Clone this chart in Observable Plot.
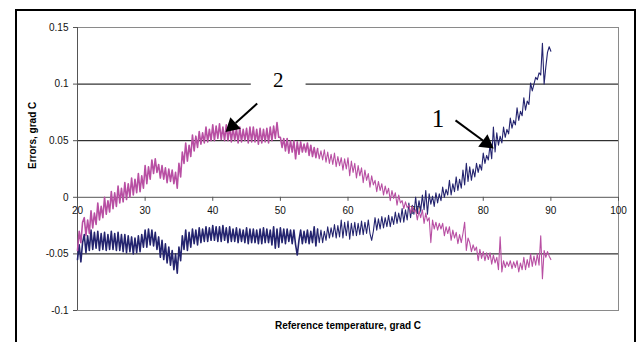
<!DOCTYPE html>
<html><head><meta charset="utf-8">
<script src="https://cdn.jsdelivr.net/npm/d3@7"></script>
<script src="https://cdn.jsdelivr.net/npm/@observablehq/plot@0.6"></script>
<style>
html,body{margin:0;padding:0;background:#fff;overflow:hidden;}
</style></head><body><div id="chart"></div>
<script>
const xTicks = [20, 30, 40, 50, 60, 70, 80, 90, 100];
const yTicks = [-0.1, -0.05, 0, 0.05, 0.1, 0.15];
const gridValues = [-0.05, 0.05, 0.1];
const xLabel = "Reference temperature, grad C";
const yLabel = "Errors, grad C";
const tStart = 20, tStep = 0.25;
const denseUntil = 55.5;

// Series "1" (navy), one value per 0.25 grad C from 20 to 90
const series1 = [
-0.055,-0.042,-0.057,-0.040,
-0.033,-0.049,-0.034,-0.047,
-0.029,-0.046,-0.031,-0.045,
-0.030,-0.047,-0.032,-0.046,
-0.031,-0.047,-0.033,-0.046,
-0.030,-0.046,-0.032,-0.047,
-0.031,-0.047,-0.033,-0.048,
-0.033,-0.049,-0.034,-0.048,
-0.035,-0.050,-0.036,-0.049,
-0.034,-0.048,-0.033,-0.044,
-0.029,-0.044,-0.028,-0.042,
-0.029,-0.043,-0.031,-0.046,
-0.035,-0.053,-0.038,-0.055,
-0.041,-0.058,-0.044,-0.060,
-0.047,-0.064,-0.050,-0.067,
-0.044,-0.056,-0.034,-0.046,
-0.029,-0.047,-0.031,-0.044,
-0.028,-0.041,-0.029,-0.042,
-0.027,-0.040,-0.028,-0.039,
-0.026,-0.039,-0.027,-0.038,
-0.025,-0.038,-0.026,-0.039,
-0.026,-0.039,-0.025,-0.038,
-0.027,-0.040,-0.026,-0.039,
-0.028,-0.039,-0.027,-0.040,
-0.028,-0.039,-0.029,-0.040,
-0.027,-0.041,-0.028,-0.040,
-0.028,-0.040,-0.029,-0.041,
-0.028,-0.041,-0.027,-0.040,
-0.028,-0.040,-0.029,-0.042,
-0.026,-0.045,-0.028,-0.044,
-0.027,-0.040,-0.028,-0.041,
-0.028,-0.039,-0.029,-0.041,
-0.029,-0.042,-0.051,-0.038,
-0.029,-0.041,-0.030,-0.040,
-0.029,-0.041,-0.030,-0.040,
-0.026,-0.043,-0.028,-0.040,
-0.029,-0.040,-0.030,-0.038,
-0.026,-0.036,-0.027,-0.035,
-0.024,-0.036,-0.025,-0.035,
-0.020,-0.036,-0.022,-0.034,
-0.021,-0.037,-0.023,-0.034,
-0.022,-0.034,-0.023,-0.033,
-0.021,-0.033,-0.022,-0.032,
-0.020,-0.032,-0.038,-0.030,
-0.018,-0.029,-0.019,-0.028,
-0.017,-0.027,-0.018,-0.026,
-0.016,-0.026,-0.017,-0.024,
-0.013,-0.023,-0.014,-0.022,
-0.010,-0.022,-0.011,-0.020,
-0.005,-0.018,-0.007,-0.015,
0.000,-0.014,-0.003,-0.012,
0.002,-0.011,0.006,-0.015,
0.003,-0.006,0.001,-0.008,
0.004,-0.005,0.003,-0.003,
0.009,0.000,0.007,0.002,
0.015,0.002,0.012,0.005,
0.018,0.006,0.016,0.008,
0.024,0.011,0.030,0.014,
0.027,0.015,0.025,0.018,
0.030,0.022,0.029,0.024,
0.039,0.030,0.037,0.033,
0.046,0.034,0.062,0.040,
0.057,0.046,0.054,0.048,
0.062,0.053,0.060,0.056,
0.070,0.061,0.068,0.064,
0.079,0.068,0.076,0.072,
0.088,0.077,0.085,0.082,
0.101,0.094,0.100,0.106,
0.104,0.110,0.108,0.136,
0.100,0.115,0.128,0.133,
0.129
];

// Series "2" (magenta), one value per 0.25 grad C from 20 to 90
const series2 = [
-0.047,-0.030,-0.040,-0.022,
-0.018,-0.034,-0.020,-0.032,
-0.012,-0.027,-0.014,-0.024,
-0.005,-0.020,-0.008,-0.018,
0.000,-0.015,-0.003,-0.013,
0.005,-0.010,0.004,-0.008,
0.010,-0.005,0.008,-0.004,
0.013,-0.002,0.012,0.000,
0.017,0.002,0.016,0.004,
0.021,0.005,0.019,0.008,
0.028,0.012,0.027,0.016,
0.033,0.021,0.034,0.022,
0.029,0.017,0.028,0.016,
0.026,0.013,0.025,0.014,
0.024,0.012,0.022,0.008,
0.030,0.018,0.040,0.030,
0.048,0.032,0.046,0.036,
0.055,0.041,0.054,0.044,
0.058,0.047,0.057,0.048,
0.062,0.049,0.060,0.050,
0.064,0.050,0.063,0.052,
0.065,0.051,0.062,0.050,
0.064,0.050,0.063,0.049,
0.062,0.050,0.061,0.048,
0.062,0.049,0.060,0.050,
0.061,0.048,0.062,0.049,
0.062,0.049,0.060,0.047,
0.061,0.048,0.060,0.049,
0.061,0.048,0.062,0.050,
0.063,0.052,0.066,0.053,
0.053,0.044,0.052,0.041,
0.052,0.039,0.050,0.040,
0.050,0.034,0.049,0.038,
0.049,0.040,0.047,0.040,
0.048,0.037,0.046,0.036,
0.044,0.035,0.043,0.034,
0.041,0.033,0.042,0.031,
0.040,0.030,0.038,0.029,
0.039,0.027,0.036,0.028,
0.035,0.024,0.034,0.025,
0.035,0.019,0.032,0.022,
0.030,0.017,0.028,0.019,
0.026,0.013,0.024,0.015,
0.021,0.009,0.019,0.011,
0.015,0.005,0.014,0.006,
0.012,0.002,0.010,0.003,
0.008,-0.003,0.006,-0.001,
0.004,-0.007,0.002,-0.005,
-0.003,-0.010,-0.004,-0.009,
-0.007,-0.014,-0.008,-0.013,
-0.011,-0.020,-0.012,-0.018,
-0.011,-0.023,-0.014,-0.021,
-0.018,-0.040,-0.020,-0.028,
-0.022,-0.029,-0.023,-0.028,
-0.023,-0.034,-0.026,-0.032,
-0.026,-0.038,-0.029,-0.036,
-0.031,-0.041,-0.033,-0.040,
-0.032,-0.022,-0.047,-0.036,
-0.040,-0.048,-0.042,-0.047,
-0.044,-0.056,-0.046,-0.054,
-0.048,-0.056,-0.049,-0.055,
-0.049,-0.059,-0.051,-0.058,
-0.053,-0.064,-0.035,-0.066,
-0.056,-0.062,-0.057,-0.061,
-0.056,-0.063,-0.057,-0.062,
-0.056,-0.066,-0.058,-0.064,
-0.053,-0.064,-0.055,-0.062,
-0.050,-0.061,-0.052,-0.060,
-0.050,-0.060,-0.034,-0.072,
-0.047,-0.053,-0.048,-0.052,
-0.055
];

// Annotations ("1", "2" with arrows), in data units
const labelNames = ["1", "2"];
const labelT = [73.3, 49.7];
const labelV = [0.0693, 0.1034];
const labelSize = [25, 21];
const arrowStartT = [75.9, 46.57];
const arrowStartV = [0.068, 0.0828];
const arrowBaseT = [79.95, 43.38];
const arrowBaseV = [0.0502, 0.0657];
const arrowHeadT = [80.48, 42.88];
const arrowHeadV = [0.0478, 0.0630];
const arrowRotate = [126.5, 228];
const gapT = [45.7, 53.8];
const gapV = [0.096, 0.111];

const W = 640, H = 342, mL = 77, mR = 22, mT = 27, mB = 32;
const yDomain = [-0.1, 0.15];
const xDomain = [20, 100];
const axisDy = -(0 - yDomain[0]) / (yDomain[1] - yDomain[0]) * (H - mT - mB);

const rows1 = series1.map((v, i) => ({t: tStart + i * tStep, v}));
const rows2 = series2.map((v, i) => ({t: tStart + i * tStep, v}));
const dense1 = rows1.filter(d => d.t <= denseUntil), sparse1 = rows1.filter(d => d.t >= denseUntil);
const dense2 = rows2.filter(d => d.t <= denseUntil), sparse2 = rows2.filter(d => d.t >= denseUntil);
const labels = labelNames.map((s, i) => ({s, t: labelT[i], v: labelV[i], size: labelSize[i]}));
const arrows = labelNames.map((s, i) => ({
  t1: arrowStartT[i], v1: arrowStartV[i], t2: arrowBaseT[i], v2: arrowBaseV[i],
  th: arrowHeadT[i], vh: arrowHeadV[i], rot: arrowRotate[i]
}));

const c1 = "#24246f", c2 = "#b84fa3";
const plot = Plot.plot({
  width: W, height: H,
  marginLeft: mL, marginRight: mR, marginTop: mT, marginBottom: mB,
  style: {fontFamily: "'Liberation Sans', Arial, sans-serif", fontSize: "10px", background: "#fff"},
  x: {domain: xDomain, axis: null},
  y: {domain: yDomain, axis: null},
  marks: [
    Plot.frame({stroke: "#8a8a8a"}),
    Plot.ruleY(gridValues, {stroke: "#000", strokeWidth: 1}),
    Plot.rect([0], {x1: gapT[0], x2: gapT[1], y1: gapV[0], y2: gapV[1], fill: "#fff"}),
    Plot.ruleY([0], {stroke: "#555"}),
    Plot.ruleX([xDomain[0]], {stroke: "#555"}),
    Plot.axisY({ticks: yTicks, tickSize: 4, tickPadding: 5, tickFormat: d => String(d), label: null, stroke: "#555", fill: "#111"}),
    Plot.axisX({ticks: xTicks, tickSize: 4, tickPadding: 6, dy: axisDy, tickFormat: d => String(d), label: null, stroke: "#555", fill: "#111"}),
    Plot.line(dense1, {x: "t", y: "v", stroke: c1, strokeWidth: 1.6}),
    Plot.line(sparse1, {x: "t", y: "v", stroke: c1, strokeWidth: 1.1}),
    Plot.line(dense2, {x: "t", y: "v", stroke: c2, strokeWidth: 1.6}),
    Plot.line(sparse2, {x: "t", y: "v", stroke: c2, strokeWidth: 1.1}),
    Plot.link(arrows, {x1: "t1", y1: "v1", x2: "t2", y2: "v2", stroke: "#000", strokeWidth: 2}),
    Plot.dot(arrows, {x: "th", y: "vh", symbol: "triangle", r: 5.8, fill: "#000", stroke: "none", rotate: "rot"}),
    Plot.text(labels, {x: "t", y: "v", text: "s", fontSize: "size", fontFamily: "'Liberation Serif', 'Times New Roman', serif", fill: "#000"}),
    Plot.text([xLabel], {frameAnchor: "bottom", dy: 18, text: d => d, fontWeight: "bold", fontSize: 10, fill: "#000"}),
    Plot.text([yLabel], {frameAnchor: "left", dx: -45, rotate: -90, text: d => d, fontWeight: "bold", fontSize: 10, fill: "#000"})
  ]
});

d3.select(plot).append("rect")
  .attr("x", 16).attr("y", 10).attr("width", 619).attr("height", 400)
  .attr("fill", "none").attr("stroke", "#000").attr("stroke-width", 2);

document.getElementById("chart").appendChild(plot);
</script></body></html>
